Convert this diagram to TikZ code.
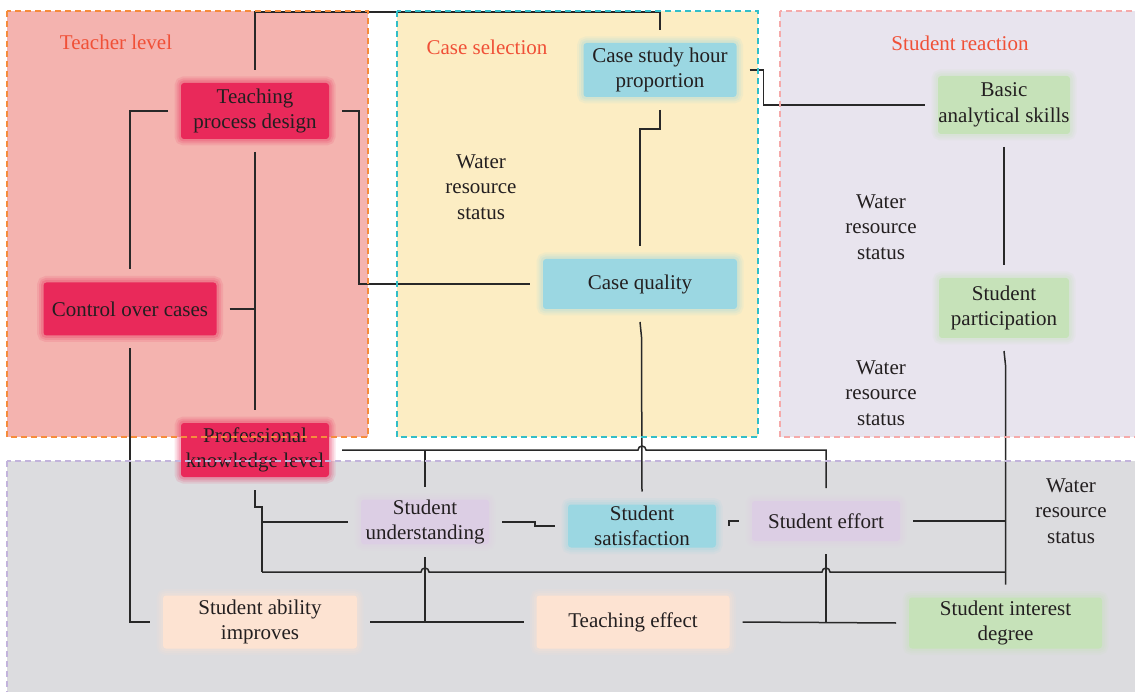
\documentclass[tikz,border=0pt]{standalone}
\usepackage{fontspec}
\setmainfont{Liberation Serif}
\usetikzlibrary{calc}
\definecolor{txt}{RGB}{35,31,32}
\definecolor{lin}{RGB}{40,40,40}
\definecolor{ttlc}{RGB}{240,80,55}
\definecolor{teachfill}{RGB}{244,179,175}
\definecolor{teachbord}{RGB}{245,140,60}
\definecolor{casefill}{RGB}{252,237,195}
\definecolor{casebord}{RGB}{50,190,200}
\definecolor{reacfill}{RGB}{232,228,238}
\definecolor{reacbord}{RGB}{245,170,170}
\definecolor{grayfill}{RGB}{220,220,223}
\definecolor{graybord}{RGB}{195,180,220}
\definecolor{crim}{RGB}{233,41,90}
\definecolor{lblue}{RGB}{155,215,226}
\definecolor{lgreen}{RGB}{198,226,185}
\definecolor{lpurp}{RGB}{220,206,228}
\definecolor{peach}{RGB}{253,227,210}
\tikzset{
  box/.style={rectangle, inner sep=0pt, outer sep=13pt, align=center, text=txt,
    font=\fontsize{21}{25.5}\selectfont},
  glow/.style={fill=#1, rounded corners=3pt,
    preaction={draw=#1, line width=13pt, draw opacity=0.12},
    preaction={draw=#1, line width=9pt, draw opacity=0.15},
    preaction={draw=#1, line width=5pt, draw opacity=0.2}},
  conn/.style={draw=lin, line width=1.5pt},
  region/.style={line width=1.2pt, dash pattern=on 6pt off 4pt},
  lbl/.style={align=center, text=txt, font=\fontsize{21}{25.5}\selectfont},
  ttl/.style={text=ttlc, font=\fontsize{21}{25.5}\selectfont}
}
\begin{document}
\begin{tikzpicture}[x=1pt,y=-1pt]
\clip (0,0) rectangle (1135,692);
\fill[white] (0,0) rectangle (1135,692);
% region fills
\fill[teachfill] (7,11) rectangle (368,437);
\fill[casefill] (397,11) rectangle (758,437);
\fill[reacfill] (780,11) rectangle (1145,437);
\fill[grayfill] (7,461) rectangle (1145,700);
% titles
\node[ttl] (t1) at (116,42) {Teacher level};
\node[ttl] (t2) at (487,47) {Case selection};
\node[ttl] (t3) at (960,43) {Student reaction};
% labels
\node[lbl] (w1) at (481,187) {Water\\resource\\status};
\node[lbl] (w2) at (881,227) {Water\\resource\\status};
\node[lbl] (w3) at (881,393) {Water\\resource\\status};
\node[lbl] (w4) at (1071,511) {Water\\resource\\status};
% nodes
\node[box, glow=crim, minimum width=148pt, minimum height=56pt] (tpd) at (255,111) {Teaching\\process design};
\node[box, glow=lblue, minimum width=153pt, minimum height=54pt] (csh) at (660,70) {Case study hour\\proportion};
\node[box, glow=lgreen, minimum width=132pt, minimum height=58pt] (bas) at (1004,105) {Basic\\analytical skills};
\node[box, glow=crim, minimum width=173pt, minimum height=53pt] (coc) at (130,309) {Control over cases};
\node[box, glow=lblue, minimum width=194pt, minimum height=50pt] (cq) at (640,284) {Case quality};
\node[box, glow=lgreen, minimum width=130pt, minimum height=60pt] (sp) at (1004,308) {Student\\participation};
\node[box, glow=crim, minimum width=148pt, minimum height=54pt] (pkl) at (255,450) {Professional\\knowledge level};
\node[box, glow=lpurp, minimum width=128pt, minimum height=44pt] (su) at (425,522) {Student\\understanding};
\node[box, glow=lblue, minimum width=148pt, minimum height=43pt] (ss) at (642,526) {Student\\satisfaction};
\node[box, glow=lpurp, minimum width=148pt, minimum height=40pt] (se) at (826,521) {Student effort};
\node[box, glow=peach, minimum width=194pt, minimum height=53pt] (sai) at (260,622) {Student ability\\improves};
\node[box, glow=peach, minimum width=193pt, minimum height=53pt] (te) at (633,622) {Teaching effect};
\node[box, glow=lgreen, minimum width=193pt, minimum height=51pt] (sii) at (1005.5,623) {Student interest\\degree};
% junction coordinates
\coordinate (topy) at (0,12);
\coordinate (j3) at (359,0);
\coordinate (hl) at (262,572);
\coordinate (jL) at (262,507);
% connectors
\draw[conn] (tpd.north) -- (tpd.north |- topy) -| (csh.north);
\draw[conn] (tpd.west) -| (coc.north);
\draw[conn] (tpd.east) -| (j3 |- cq.west) -- (cq.west);
\draw[conn] (tpd.south) -- (pkl.north);
\draw[conn] (coc.east) -- (coc.east -| tpd.south);
\draw[conn] (coc.south) |- (sai.west);
\draw[conn] (csh.south) -- ++(0,19) -| (cq.north);
\draw[conn] (csh.east) -- ++(14,0) |- (bas.west);
\draw[conn] (bas.south) -- (sp.north);
\draw[conn] (sp.south) -- ++(1.5,14) -- (sii.north);
\draw[conn] (se.east) -- (se.east -| sii.north);
\draw[conn] (cq.south) -- ++(1.5,15) -- (ss.north);
\draw[conn] (pkl.east) -- ($(pkl.east -| ss.north)+(-4,0)$) arc[start angle=180, end angle=360, radius=4] -| (se.north);
\draw[conn] (su.north) -- (su.north |- pkl.east);
\draw[conn] (pkl.south) |- (jL) -- (hl);
\draw[conn] (jL |- su.west) -- (su.west);
\draw[conn] (hl) -- ($(hl -| su.south)+(-4,0)$) arc[start angle=180, end angle=360, radius=4]
  -- ($(hl -| se.south)+(-4,0)$) arc[start angle=180, end angle=360, radius=4] -- (hl -| sii.north);
\draw[conn] (su.east) -- ++(33,0) |- (ss.west);
\draw[conn] (ss.east) |- (se.west);
\draw[conn] (su.south) -- (su.south |- sai.east);
\draw[conn] (sai.east) -- (te.west);
\draw[conn] (se.south) -- (se.south |- te.east);
\draw[conn] (te.east) -- (sii.west);
% region borders
\draw[region, teachbord] (7,11) rectangle (368,437);
\draw[region, casebord] (397,11) rectangle (758,437);
\draw[region, reacbord] (780,11) rectangle (1145,437);
\draw[region, graybord] (7,461) rectangle (1145,700);
\end{tikzpicture}
\end{document}
